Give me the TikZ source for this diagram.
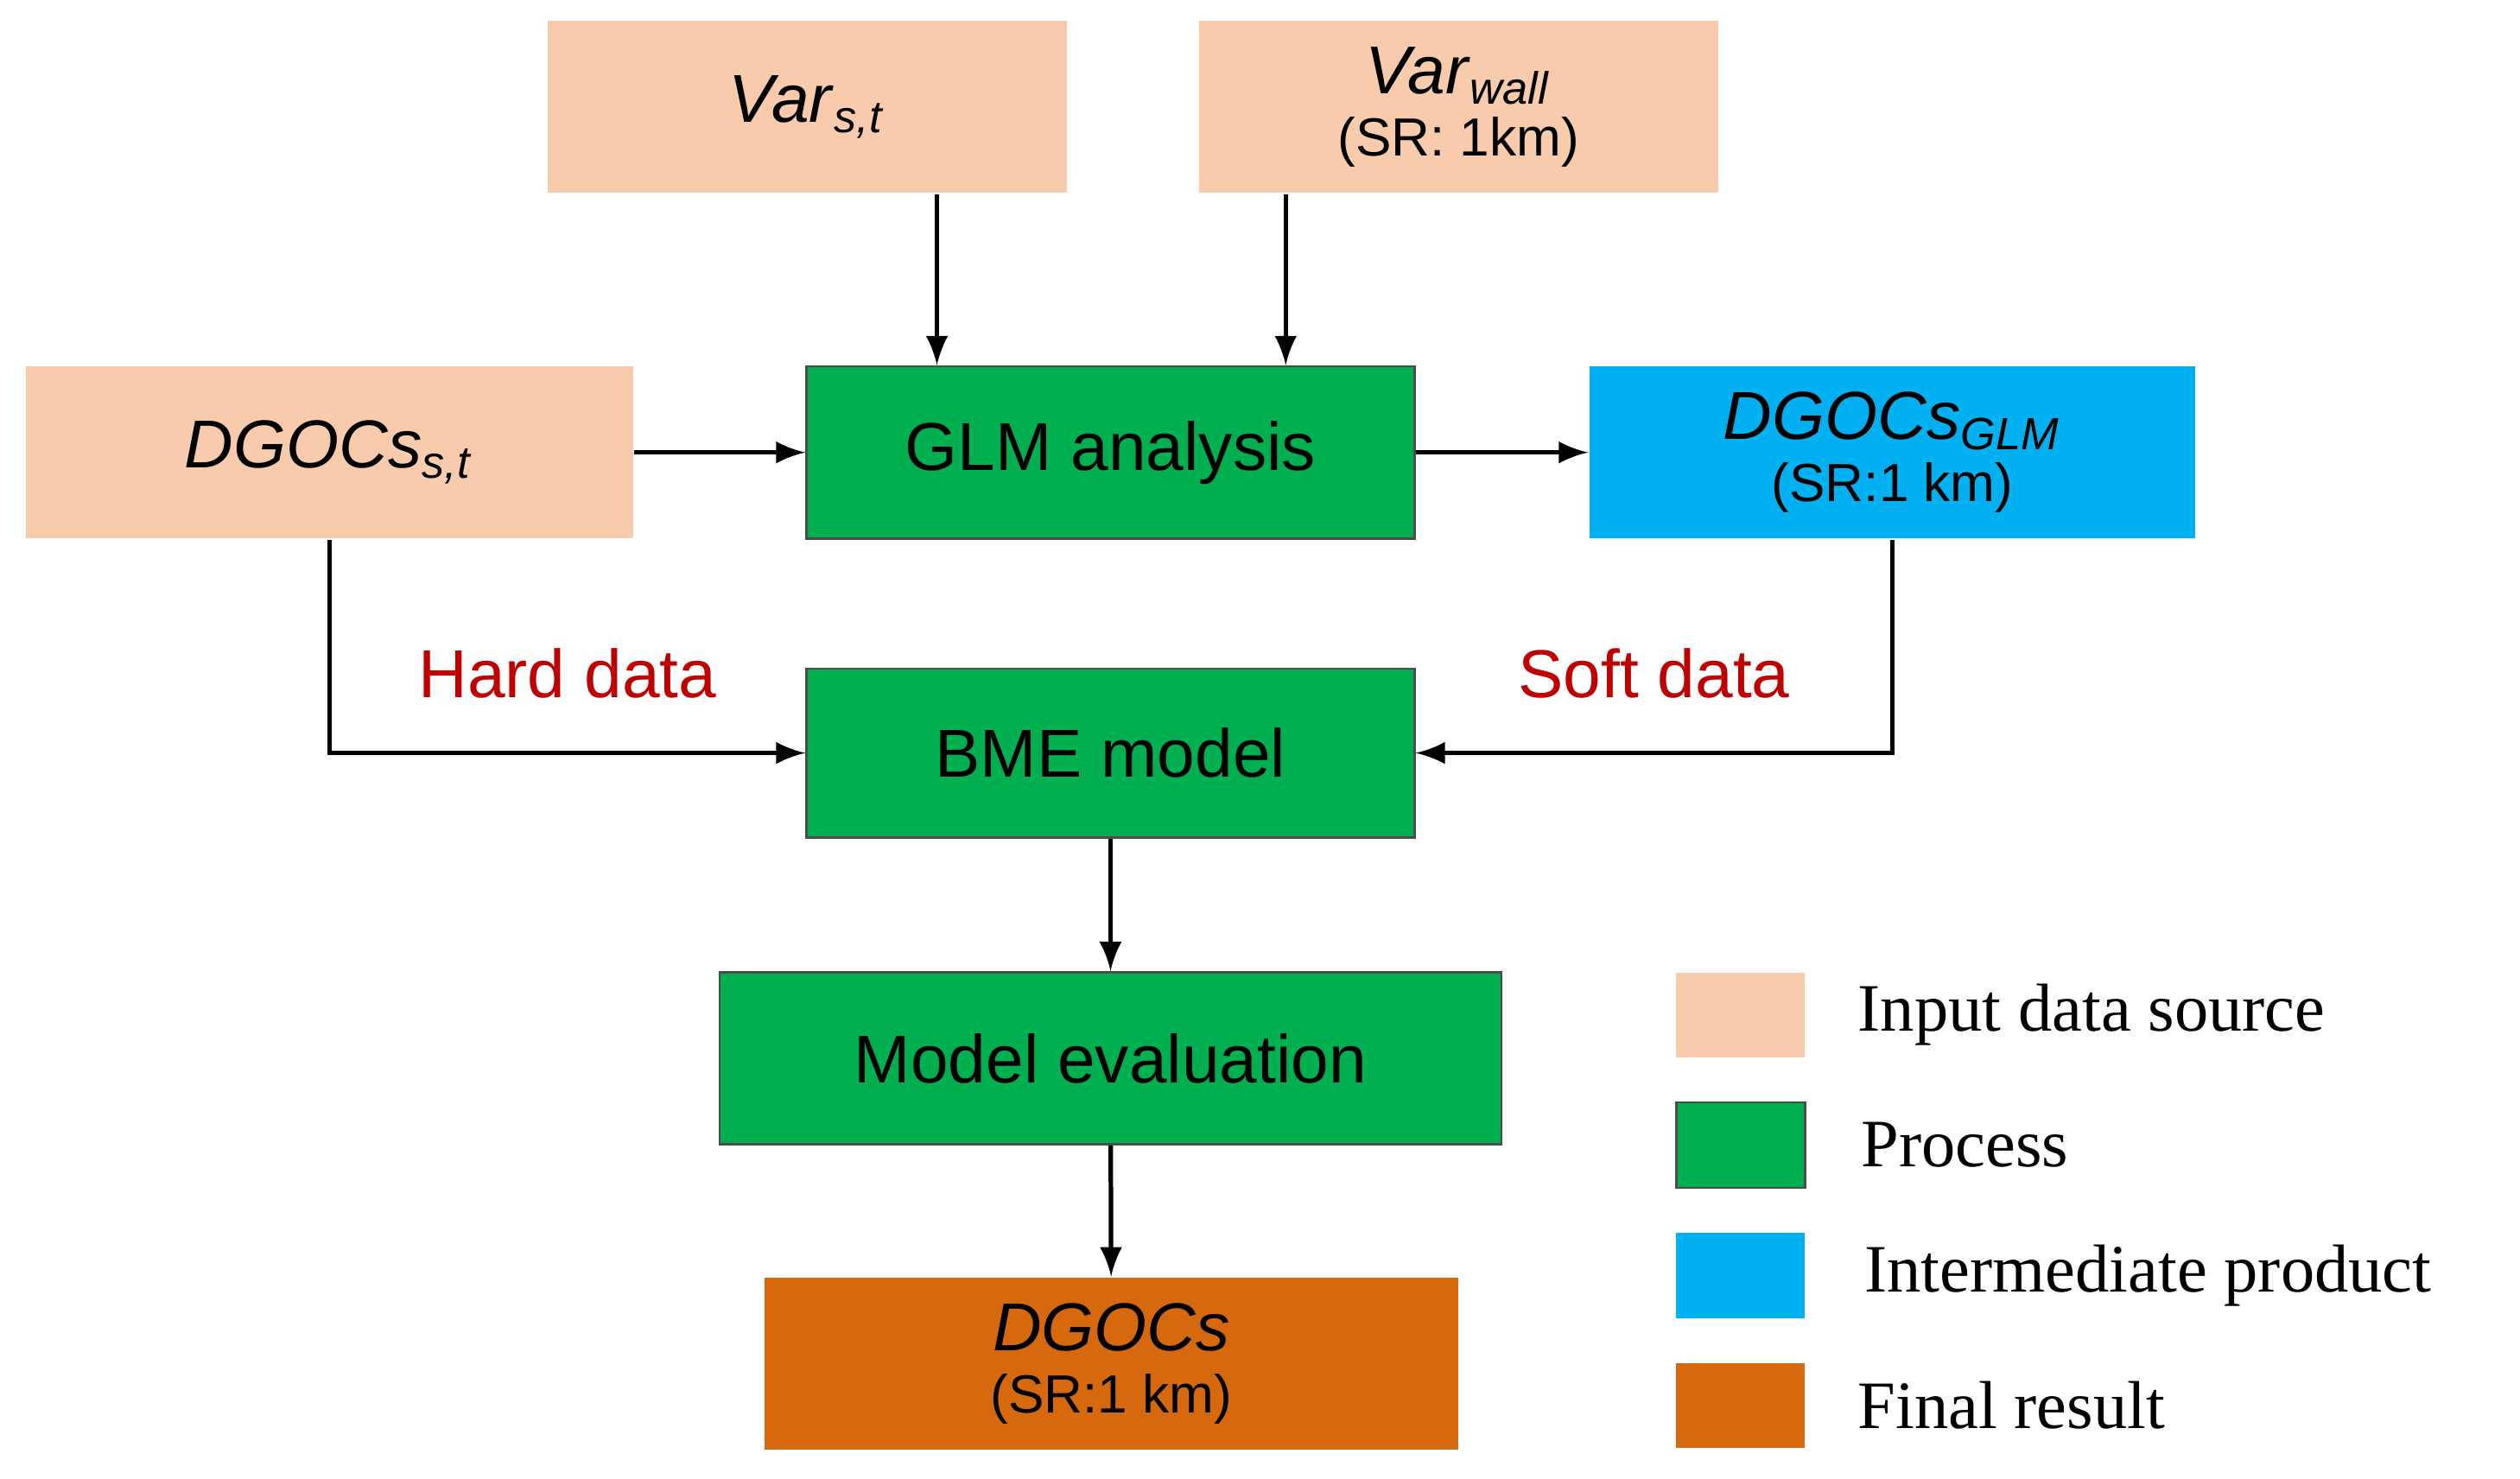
\documentclass[tikz,border=0pt]{standalone}
\usepackage{fontspec}
\setmainfont{Liberation Sans}
\newfontfamily\legendfont{Liberation Serif}
\usetikzlibrary{positioning,calc}
\definecolor{inputc}{HTML}{F8CBAD}
\definecolor{procc}{HTML}{00B050}
\definecolor{interc}{HTML}{00B0F0}
\definecolor{finalc}{HTML}{D6690E}
\definecolor{labred}{HTML}{C00000}
\begin{document}
\begin{tikzpicture}
    [x=0.01cm,y=-0.01cm,
    box/.style={rectangle,inner sep=0pt,minimum height=1.07cm,align=center,
                font=\fontsize{12}{13}\selectfont},
    input/.style={box,fill=inputc},
    process/.style={box,fill=procc,draw=black!70,thin},
    inter/.style={box,fill=interc},
    final/.style={box,fill=finalc},
    small/.style={font=\fontsize{9.5}{11}\selectfont},
    flow/.style={->,>=latex,thick},
    datalabel/.style={text=labred,font=\fontsize{12}{13}\selectfont},
    key/.style={rectangle,inner sep=0pt,minimum width=0.8cm,minimum height=0.53cm},
    keytext/.style={right,font=\legendfont\fontsize{12}{13}\selectfont}]

    \useasboundingbox (0,0) rectangle (1568,920);

    \node[input,minimum width=3.23cm] (varst) at (502.5,66.5) {\textit{Var}\textsubscript{\textit{s,t}}};
    \node[input,minimum width=3.23cm] (varwall) at (907.5,66.5)
        {\textit{Var}\textsubscript{\textit{wall}}\\[-2pt]{\small\fontsize{9.5}{11}\selectfont (SR: 1km)}};
    \node[input,minimum width=3.78cm] (dgocsst) at (205,281.5) {\textit{DGOCs}\textsubscript{\textit{s,t}}};
    \node[process,minimum width=3.78cm] (glm) at (691,281.5) {GLM analysis};
    \node[inter,minimum width=3.77cm] (dgocsglm) at (1177.5,281.5)
        {\textit{DGOCs}\textsubscript{\textit{GLM}}\\[-2pt]{\fontsize{9.5}{11}\selectfont (SR:1 km)}};
    \node[process,minimum width=3.78cm,minimum height=1.05cm] (bme) at (691,468.5) {BME model};
    \node[process,minimum width=4.86cm] (eval) at (691,658.5) {Model evaluation};
    \node[final,minimum width=4.31cm] (result) at (691.5,848.5)
        {\textit{DGOCs}\\[-2pt]{\fontsize{9.5}{11}\selectfont (SR:1 km)}};

    \draw[flow] (varst.south -| 583,0) -- (glm.north -| 583,0);
    \draw[flow] (varwall.south -| 800,0) -- (glm.north -| 800,0);
    \draw[flow] (dgocsst) -- (glm);
    \draw[flow] (glm) -- (dgocsglm);
    \draw[flow] (dgocsst.south) |- node[datalabel,pos=0.75,above=6pt] {Hard data} (bme.west);
    \draw[flow] (dgocsglm.south) |- node[datalabel,pos=0.75,above=6pt] {Soft data} (bme.east);
    \draw[flow] (bme) -- (eval);
    \draw[flow] (eval) -- (result);

    % legend
    \node[key,fill=inputc] (kinput) at (1083,631.5) {};
    \node[key,fill=procc,draw=black!70,thin] (kproc) at (1083,712.5) {};
    \node[key,fill=interc] (kinter) at (1083,793.5) {};
    \node[key,fill=finalc] (kfinal) at (1083,874.5) {};
    \node[keytext] at ($(kinput.east)+(20,0)$) {Input data source};
    \node[keytext] at ($(kproc.east)+(22,0)$) {Process};
    \node[keytext] at ($(kinter.east)+(24,0)$) {Intermediate product};
    \node[keytext] at ($(kfinal.east)+(20,0)$) {Final result};
\end{tikzpicture}
\end{document}
